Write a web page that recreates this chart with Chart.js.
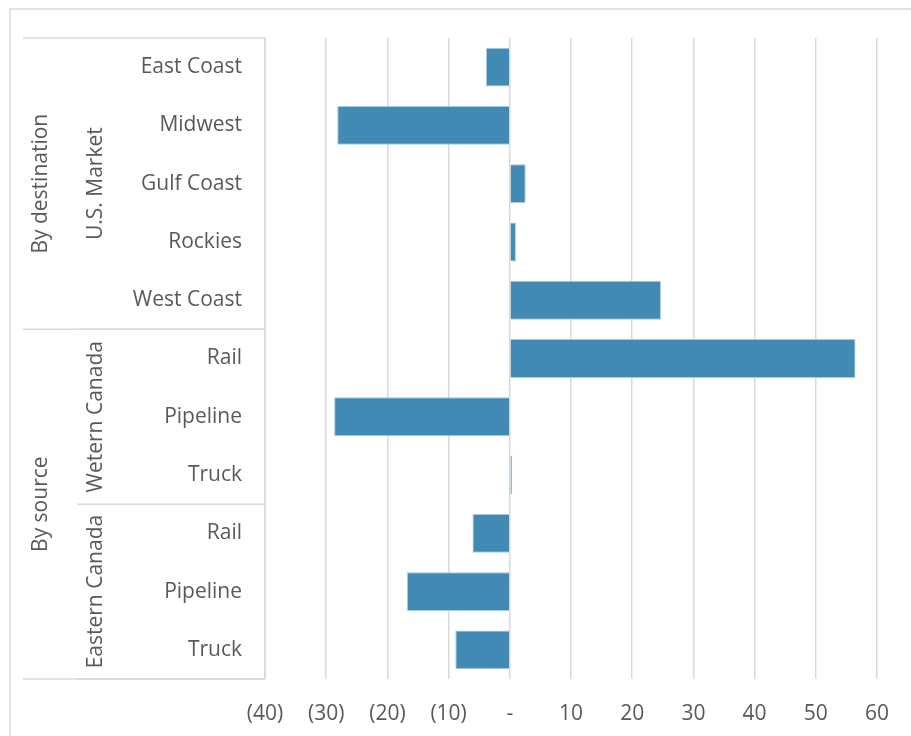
<!DOCTYPE html>
<html>
<head>
<meta charset="utf-8">
<script src="https://cdn.jsdelivr.net/npm/chart.js@4/dist/chart.umd.min.js"></script>
<style>
  html, body { margin: 0; padding: 0; background: #ffffff; }
  #wrap { width: 911px; height: 736px; position: relative; }
</style>
</head>
<body>
<div id="wrap"><canvas id="c" width="911" height="736"></canvas></div>
<script>
// ---- data ----
const categories = ["East Coast", "Midwest", "Gulf Coast", "Rockies", "West Coast",
                    "Rail", "Pipeline", "Truck",
                    "Rail", "Pipeline", "Truck"];
const values = [-3.9, -28.2, 2.6, 1.0, 24.7, 56.5, -28.7, 0.4, -6.1, -16.8, -8.9];
const midGroups = [
  { label: "U.S. Market", from: 0, to: 4 },
  { label: "Wetern Canada", from: 5, to: 7 },
  { label: "Eastern Canada", from: 8, to: 10 }
];
const topGroups = [
  { label: "By destination", from: 0, to: 4 },
  { label: "By source", from: 5, to: 10 }
];
const xMin = -40, xMax = 60, xStep = 10;

const FONT = "'Open Sans', 'DejaVu Sans', sans-serif";
const FS = 21;
const TEXT = "#595959";
const LINE = "#d9d9d9";

const groupPlugin = {
  id: "groupLabels",
  beforeDraw(chart) {
    const ctx = chart.ctx;
    ctx.save();
    ctx.strokeStyle = LINE;
    ctx.lineWidth = 1.5;
    ctx.beginPath();
    ctx.moveTo(10, 736);
    ctx.lineTo(10, 9);
    ctx.lineTo(911, 9);
    ctx.stroke();
    ctx.restore();
  },
  afterDraw(chart) {
    const ctx = chart.ctx;
    const y = chart.scales.y;
    const left = chart.chartArea.left;
    const half = (y.getPixelForValue(1) - y.getPixelForValue(0)) / 2;
    const edge = (i) => y.getPixelForValue(i) + half;
    ctx.save();
    ctx.strokeStyle = LINE;
    ctx.lineWidth = 1.5;
    const topY = y.getPixelForValue(0) - half;
    ctx.beginPath();
    ctx.moveTo(left, topY);
    ctx.lineTo(left, edge(categories.length - 1));
    ctx.stroke();
    ctx.beginPath();
    ctx.moveTo(23, topY); ctx.lineTo(left, topY);
    ctx.stroke();
    topGroups.forEach(g => {
      const yy = edge(g.to);
      ctx.beginPath(); ctx.moveTo(23, yy); ctx.lineTo(left, yy); ctx.stroke();
    });
    midGroups.forEach(g => {
      const yy = edge(g.to);
      ctx.beginPath(); ctx.moveTo(77, yy); ctx.lineTo(left, yy); ctx.stroke();
    });
    ctx.fillStyle = TEXT;
    ctx.font = FS + "px " + FONT;
    ctx.textAlign = "center";
    ctx.textBaseline = "middle";
    const drawV = (label, x, from, to) => {
      const cy = (y.getPixelForValue(from) + y.getPixelForValue(to)) / 2;
      ctx.save();
      ctx.translate(x, cy);
      ctx.rotate(-Math.PI / 2);
      ctx.fillText(label, 0, 0);
      ctx.restore();
    };
    topGroups.forEach(g => drawV(g.label, 41, g.from, g.to));
    midGroups.forEach(g => drawV(g.label, 96, g.from, g.to));
    ctx.restore();
  }
};

new Chart(document.getElementById("c"), {
  type: "bar",
  data: {
    labels: categories,
    datasets: [{
      data: values,
      backgroundColor: "#418ab3",
      borderColor: "#a7cbe0",
      borderWidth: 1,
      barPercentage: 0.667,
      categoryPercentage: 1.0
    }]
  },
  options: {
    indexAxis: "y",
    responsive: false,
    animation: false,
    devicePixelRatio: 1,
    layout: { padding: { top: 38, right: 34, bottom: 0, left: 0 } },
    plugins: { legend: { display: false }, tooltip: { enabled: false } },
    scales: {
      x: {
        type: "linear",
        min: xMin, max: xMax,
        grid: { color: LINE, lineWidth: 1.5, drawTicks: false },
        border: { display: false },
        ticks: {
          stepSize: xStep,
          padding: 22,
          color: TEXT,
          font: { family: FONT, size: FS },
          callback: (v) => v === 0 ? "-" : (v < 0 ? "(" + Math.abs(v) + ")" : String(v))
        },
        afterFit: (s) => { s.height = 57; }
      },
      y: {
        type: "category",
        grid: { display: false, drawTicks: false },
        border: { display: false },
        ticks: {
          padding: 23,
          color: TEXT,
          font: { family: FONT, size: FS },
          autoSkip: false
        },
        afterFit: (s) => { s.width = 265; }
      }
    }
  },
  plugins: [groupPlugin]
});
</script>
</body>
</html>
